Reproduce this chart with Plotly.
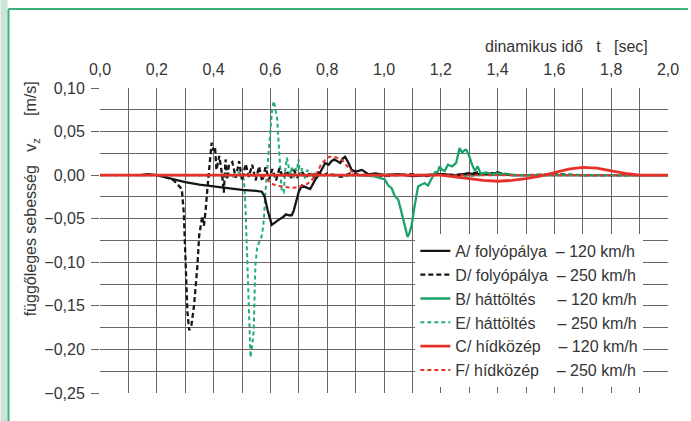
import plotly.graph_objects as go

# ---------------- data ----------------
A_t = [0.14, 0.17, 0.2, 0.25, 0.3, 0.35, 0.4, 0.45, 0.5, 0.55, 0.57, 0.58, 0.59, 0.605, 0.615,
       0.63, 0.645, 0.655, 0.665, 0.675, 0.682, 0.69, 0.70, 0.711, 0.725, 0.74, 0.75, 0.758, 0.77,
       0.781, 0.793, 0.805, 0.815, 0.825, 0.834, 0.846, 0.855, 0.863, 0.875, 0.886, 0.90, 0.922,
       0.945, 0.97, 1.0, 1.05, 1.1, 1.15, 1.2, 1.25, 1.3, 1.32, 1.35, 1.38, 1.4, 1.42, 1.45, 1.5,
       1.6, 1.8, 2.0]
A_v = [0.0, 0.001, 0.0, -0.004, -0.008, -0.011, -0.013, -0.015, -0.017, -0.018, -0.019, -0.025,
       -0.04, -0.057, -0.055, -0.051, -0.048, -0.045, -0.046, -0.046, -0.041, -0.03, -0.019, -0.012,
       -0.014, -0.016, -0.01, -0.005, 0.0, 0.007, 0.014, 0.012, 0.016, 0.018, 0.016, 0.014, 0.019,
       0.021, 0.014, 0.006, 0.004, 0.006, 0.001, 0.002, 0.0, 0.001, -0.001, 0.0, 0.001, 0.0, 0.002,
       0.001, 0.002, 0.001, 0.003, 0.001, 0.0, 0.0, 0.0, 0.0, 0.0]

D_t = [0.2, 0.23, 0.26, 0.279, 0.288, 0.295, 0.302, 0.308, 0.314, 0.322, 0.331, 0.343, 0.349,
       0.355, 0.36, 0.366, 0.372, 0.381, 0.393, 0.40, 0.405, 0.41, 0.42, 0.43, 0.436, 0.442, 0.448,
       0.454, 0.466, 0.478, 0.49, 0.50, 0.513, 0.524, 0.536, 0.548, 0.56, 0.571, 0.583, 0.595,
       0.607, 0.62, 0.632, 0.645, 0.657, 0.67, 0.683, 0.695, 0.71, 0.725, 0.74, 0.755, 0.77, 0.785,
       0.80, 0.82, 0.85, 0.88, 0.92, 0.96, 1.0, 1.05, 1.1, 1.15, 1.2, 1.25, 1.3, 1.33, 1.36, 1.39,
       1.42, 1.45, 1.5, 1.6, 1.7, 1.8, 1.9, 2.0]
D_v = [0.0, -0.002, -0.006, -0.012, -0.016, -0.043, -0.1, -0.158, -0.178, -0.172, -0.15, -0.104,
       -0.07, -0.054, -0.047, -0.058, -0.04, -0.005, 0.037, 0.028, 0.032, 0.006, 0.022, 0.0, -0.02,
       0.018, -0.005, 0.012, 0.015, -0.003, 0.016, -0.006, 0.013, -0.002, 0.012, -0.006, 0.010,
       -0.007, 0.009, -0.005, 0.007, -0.006, 0.008, -0.003, 0.005, -0.004, 0.006, -0.002, 0.004,
       -0.003, 0.003, -0.002, 0.003, -0.001, 0.002, 0.0, -0.002, 0.002, 0.0, 0.001, -0.001, 0.0,
       0.001, -0.001, 0.001, 0.0, 0.002, 0.003, 0.001, 0.003, 0.002, 0.0, 0.0, 0.001, 0.0, 0.0, 0.0,
       0.0]

B_t = [0.0, 0.5, 0.8, 0.91, 0.96, 1.003, 1.015, 1.027, 1.038, 1.05, 1.062, 1.073, 1.083, 1.09,
       1.097, 1.108, 1.12, 1.131, 1.143, 1.155, 1.167, 1.179, 1.19, 1.196, 1.205, 1.214, 1.225,
       1.24, 1.254, 1.26, 1.266, 1.275, 1.285, 1.29, 1.295, 1.30, 1.31, 1.313, 1.32, 1.33, 1.34,
       1.36, 1.38, 1.40, 1.43, 1.46, 1.5, 1.6, 1.8, 2.0]
B_v = [0.0, 0.0, 0.0, 0.0, -0.001, -0.005, -0.012, -0.015, -0.024, -0.028, -0.043, -0.058, -0.071,
       -0.066, -0.058, -0.035, -0.013, -0.011, -0.009, -0.012, -0.005, 0.003, 0.004, 0.01, 0.006,
       0.005, 0.012, 0.01, 0.014, 0.022, 0.031, 0.026, 0.029, 0.029, 0.026, 0.022, 0.012, 0.01,
       0.005, 0.01, 0.002, 0.003, 0.001, 0.002, 0.001, 0.0, 0.0, 0.0, 0.0, 0.0]

E_t = [0.42, 0.45, 0.47, 0.49, 0.50, 0.507, 0.513, 0.519, 0.524, 0.53, 0.536, 0.541, 0.547, 0.553,
       0.559, 0.565, 0.571, 0.577, 0.583, 0.589, 0.594, 0.60, 0.606, 0.612, 0.617, 0.624, 0.629,
       0.635, 0.64, 0.647, 0.652, 0.658, 0.664, 0.67, 0.676, 0.682, 0.688, 0.693, 0.699, 0.705,
       0.712, 0.72, 0.73, 0.74, 0.75, 0.76, 0.78, 0.80, 0.83, 0.86, 0.9, 0.95, 1.0, 1.1, 1.2, 1.3,
       1.4, 1.5, 1.6, 1.7, 1.8, 1.9, 2.0]
E_v = [0.0, 0.002, -0.002, 0.003, 0.0, -0.005, -0.043, -0.1, -0.158, -0.209, -0.195, -0.18, -0.104,
       -0.084, -0.078, -0.074, -0.068, -0.051, -0.017, 0.01, 0.033, 0.055, 0.075, 0.085, 0.075,
       0.064, 0.037, 0.007, -0.019, -0.02, 0.005, 0.02, 0.01, 0.0, 0.01, -0.004, 0.008, 0.005,
       0.018, 0.0, 0.008, -0.004, 0.006, 0.0, 0.004, -0.002, 0.002, 0.0, 0.001, -0.001, 0.0, 0.0,
       0.001, 0.0, 0.001, -0.001, 0.001, 0.0, 0.001, 0.0, 0.0, 0.0, 0.0]

C_t = [0.0, 0.5, 1.0, 1.2, 1.25, 1.3, 1.35, 1.4, 1.45, 1.5, 1.55, 1.6, 1.65, 1.7, 1.75, 1.8, 1.85,
       1.9, 1.95, 2.0]
C_v = [0.0, 0.0, 0.0, 0.0, -0.002, -0.004, -0.006, -0.007, -0.006, -0.004, -0.001, 0.003, 0.007,
       0.009, 0.008, 0.005, 0.002, 0.0, 0.0, 0.0]

F_t = [0.0, 0.5, 0.56, 0.583, 0.6, 0.62, 0.64, 0.66, 0.676, 0.695, 0.711, 0.73, 0.745, 0.758,
       0.768, 0.776, 0.788, 0.799, 0.81, 0.822, 0.835, 0.851, 0.863, 0.875, 0.89, 0.91, 0.95, 1.2,
       1.5, 2.0]
F_v = [0.0, 0.0, 0.0, -0.003, -0.009, -0.012, -0.013, -0.014, -0.0145, -0.014, -0.012, -0.01,
       -0.006, 0.0, 0.005, 0.011, 0.016, 0.02, 0.021, 0.021, 0.02, 0.018, 0.013, 0.008, 0.003, 0.0,
       0.0, 0.0, 0.0, 0.0]

series_names = {
    "A": "A/ folyópálya\u00a0\u00a0–\u00a0120 km/h",
    "D": "D/ folyópálya\u00a0\u00a0–\u00a0250 km/h",
    "B": "B/ háttöltés\u00a0\u00a0\u00a0\u00a0\u00a0–\u00a0120 km/h",
    "E": "E/ háttöltés\u00a0\u00a0\u00a0\u00a0\u00a0–\u00a0250 km/h",
    "C": "C/ hídközép\u00a0\u00a0\u00a0\u00a0–\u00a0120 km/h",
    "F": "F/ hídközép\u00a0\u00a0\u00a0\u00a0–\u00a0250 km/h",
}

y_ticks = [0.10, 0.05, 0.0, -0.05, -0.10, -0.15, -0.20, -0.25]
y_labels = ["0,10", "0,05", "0,00", "\u22120,05", "\u22120,10", "\u22120,15", "\u22120,20", "\u22120,25"]
x_ticks = [0.0, 0.2, 0.4, 0.6, 0.8, 1.0, 1.2, 1.4, 1.6, 1.8, 2.0]
x_labels = ["0,0", "0,2", "0,4", "0,6", "0,8", "1,0", "1,2", "1,4", "1,6", "1,8", "2,0"]

BLACK = "#161616"
GREEN = "#1ba36a"
GREEN_D = "#22ad74"
RED = "#e6302a"
GRID = "#6d6461"
TXT = "#353535"
FONT = "Liberation Sans, Arial, sans-serif"

fig = go.Figure()

def add(t, v, key, color, width, dash, rank):
    fig.add_trace(go.Scatter(
        x=t, y=v, mode="lines", name=series_names[key], legendrank=rank,
        line=dict(color=color, width=width, dash=dash),
    ))

# draw order (bottom to top)
add(E_t, E_v, "E", GREEN_D, 2, "4px,3px", 4)
add(D_t, D_v, "D", BLACK, 2.3, "5px,3px", 2)
add(A_t, A_v, "A", BLACK, 2.3, "solid", 1)
add(B_t, B_v, "B", GREEN, 2.3, "solid", 3)
add(F_t, F_v, "F", RED, 2, "4px,3px", 6)
add(C_t, C_v, "C", RED, 2.8, "solid", 5)

L, T, W, H = 100, 88, 571, 305
FW, FH = 691, 421

def px(xp):
    return (xp - L) / W

def py(yp):
    return 1 - (yp - T) / H

shapes = [
    dict(type="rect", xref="paper", yref="paper", x0=px(0), x1=px(7), y0=py(FH), y1=py(0),
         fillcolor="#cde5d7", line=dict(width=0), layer="below"),
    dict(type="line", xref="paper", yref="paper", x0=px(8), x1=px(8), y0=py(FH), y1=py(9),
         line=dict(color="#3db37a", width=2)),
    dict(type="line", xref="paper", yref="paper", x0=px(8), x1=px(FW), y0=py(9), y1=py(9),
         line=dict(color="#3db37a", width=2)),
]

annotations = [
    dict(text="dinamikus idő\u00a0\u00a0\u00a0t\u00a0\u00a0\u00a0[sec]", xref="paper", yref="paper",
         x=px(653), y=py(47), xanchor="right", yanchor="middle", showarrow=False,
         font=dict(family=FONT, size=16, color=TXT)),
    dict(text="függőleges sebesség\u00a0\u00a0\u00a0v<sub>z</sub>\u00a0\u00a0\u00a0\u00a0\u00a0[m/s]",
         xref="paper", yref="paper", x=px(31), y=py(199), xanchor="center", yanchor="middle",
         textangle=-90, showarrow=False, font=dict(family=FONT, size=16, color=TXT)),
]

fig.update_layout(
    width=FW, height=FH,
    margin=dict(l=L, r=FW - L - W, t=T, b=FH - T - H),
    paper_bgcolor="white", plot_bgcolor="white",
    font=dict(family=FONT, size=16, color=TXT),
    shapes=shapes, annotations=annotations,
    legend=dict(x=px(417), y=py(234), xanchor="left", yanchor="top", bgcolor="white",
                borderwidth=0, font=dict(family=FONT, size=16, color=TXT),
                itemwidth=30, tracegroupgap=0),
    showlegend=True,
)

fig.update_xaxes(
    range=[0, 2], side="top", tickvals=x_ticks, ticktext=x_labels,
    showgrid=True, gridcolor=GRID, gridwidth=1, zeroline=False, showline=False,
    ticks="", ticklabelstandoff=9,
    minor=dict(dtick=0.1, tick0=0, showgrid=True, gridcolor=GRID, gridwidth=1),
    tickfont=dict(family=FONT, size=16, color=TXT),
)
fig.update_yaxes(
    range=[-0.25, 0.10], tickvals=y_ticks, ticktext=y_labels,
    showgrid=True, gridcolor=GRID, gridwidth=1, zeroline=False, showline=False,
    ticks="outside", ticklen=8, tickcolor=GRID, ticklabelstandoff=3,
    minor=dict(dtick=0.025, tick0=0, showgrid=True, gridcolor=GRID, gridwidth=1),
    tickfont=dict(family=FONT, size=16, color=TXT),
)

fig.write_html("out.html")
